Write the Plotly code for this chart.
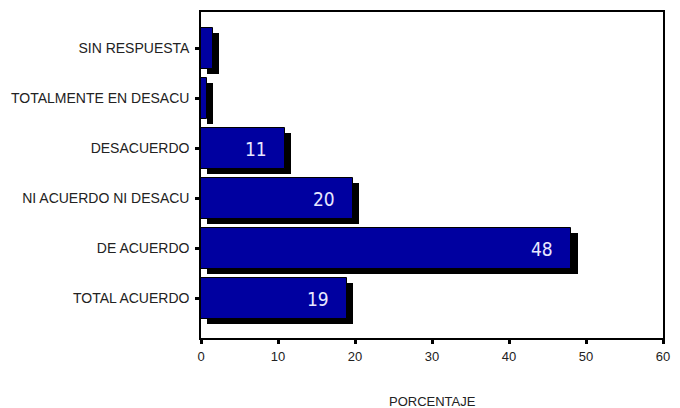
import plotly.graph_objects as go

# Survey responses, bottom to top as drawn
categories = [
    "TOTAL ACUERDO",
    "DE ACUERDO",
    "NI ACUERDO NI DESACU",
    "DESACUERDO",
    "TOTALMENTE EN DESACU",
    "SIN RESPUESTA",
]
percentages = [18.9, 48.1, 19.7, 10.9, 0.8, 1.5]
x_ticks = [0, 10, 20, 30, 40, 50, 60]

BAR_BLUE = "#0000A0"
LABEL_COLOR = "#E8E8FF"
TEXT_COLOR = "#222222"
SHADOW_SHIFT_X = 0.8    # shadow offset along the value axis (data units)
BAR_WIDTH = 0.82
SHADOW_DROP = 0.1       # shadow offset along the category axis

positions = list(range(len(categories)))

fig = go.Figure()

# Drop shadow behind each bar
fig.add_trace(go.Bar(
    y=positions,
    x=percentages,
    base=[SHADOW_SHIFT_X] * len(percentages),
    orientation="h",
    width=BAR_WIDTH,
    offset=-BAR_WIDTH / 2 - SHADOW_DROP,
    marker=dict(color="black", line=dict(width=0)),
    hoverinfo="skip",
    showlegend=False,
))

# Main bars
fig.add_trace(go.Bar(
    y=positions,
    x=percentages,
    orientation="h",
    width=BAR_WIDTH,
    offset=-BAR_WIDTH / 2,
    marker=dict(color=BAR_BLUE, line=dict(color="black", width=1)),
    showlegend=False,
))

# Value labels inside the longer bars, near their ends
for pos, val in zip(positions, percentages):
    if val >= 5:
        fig.add_annotation(
            x=val, y=pos, xref="x", yref="y",
            text=f"{val:.0f}",
            showarrow=False,
            xanchor="right", yanchor="middle",
            xshift=-16,
            font=dict(family="DejaVu Sans Condensed, Liberation Sans Narrow, sans-serif",
                      size=19, color=LABEL_COLOR),
        )

fig.add_annotation(
    x=0.5, y=-0.195, xref="paper", yref="paper",
    text="PORCENTAJE", showarrow=False,
    xanchor="center", yanchor="middle",
    font=dict(family="Liberation Sans, Arial, sans-serif", size=13, color=TEXT_COLOR),
)

fig.update_layout(
    width=680, height=408,
    margin=dict(l=201, r=17, t=10, b=70),
    paper_bgcolor="white",
    plot_bgcolor="white",
    bargap=0,
    barmode="overlay",
    font=dict(family="Liberation Sans, Arial, sans-serif", size=13, color=TEXT_COLOR),
)

fig.update_xaxes(
    range=[0, 60],
    tickvals=x_ticks,
    ticktext=[str(t) for t in x_ticks],
    ticks="outside", ticklen=4, tickwidth=3, tickcolor="black",
    ticklabelstandoff=2,
    showgrid=False, zeroline=False,
    showline=True, linecolor="black", linewidth=1.5, mirror=True,
    tickfont=dict(family="Liberation Sans, Arial, sans-serif", size=13, color=TEXT_COLOR),
)

fig.update_yaxes(
    range=[-0.79, 5.73],
    tickvals=positions,
    ticktext=categories,
    ticks="outside", ticklen=4, tickwidth=3, tickcolor="black",
    ticklabelstandoff=3,
    showgrid=False, zeroline=False,
    showline=True, linecolor="black", linewidth=1.5, mirror=True,
    tickfont=dict(family="Liberation Sans, Arial, sans-serif", size=14, color=TEXT_COLOR),
)

fig.write_html("out.html")
